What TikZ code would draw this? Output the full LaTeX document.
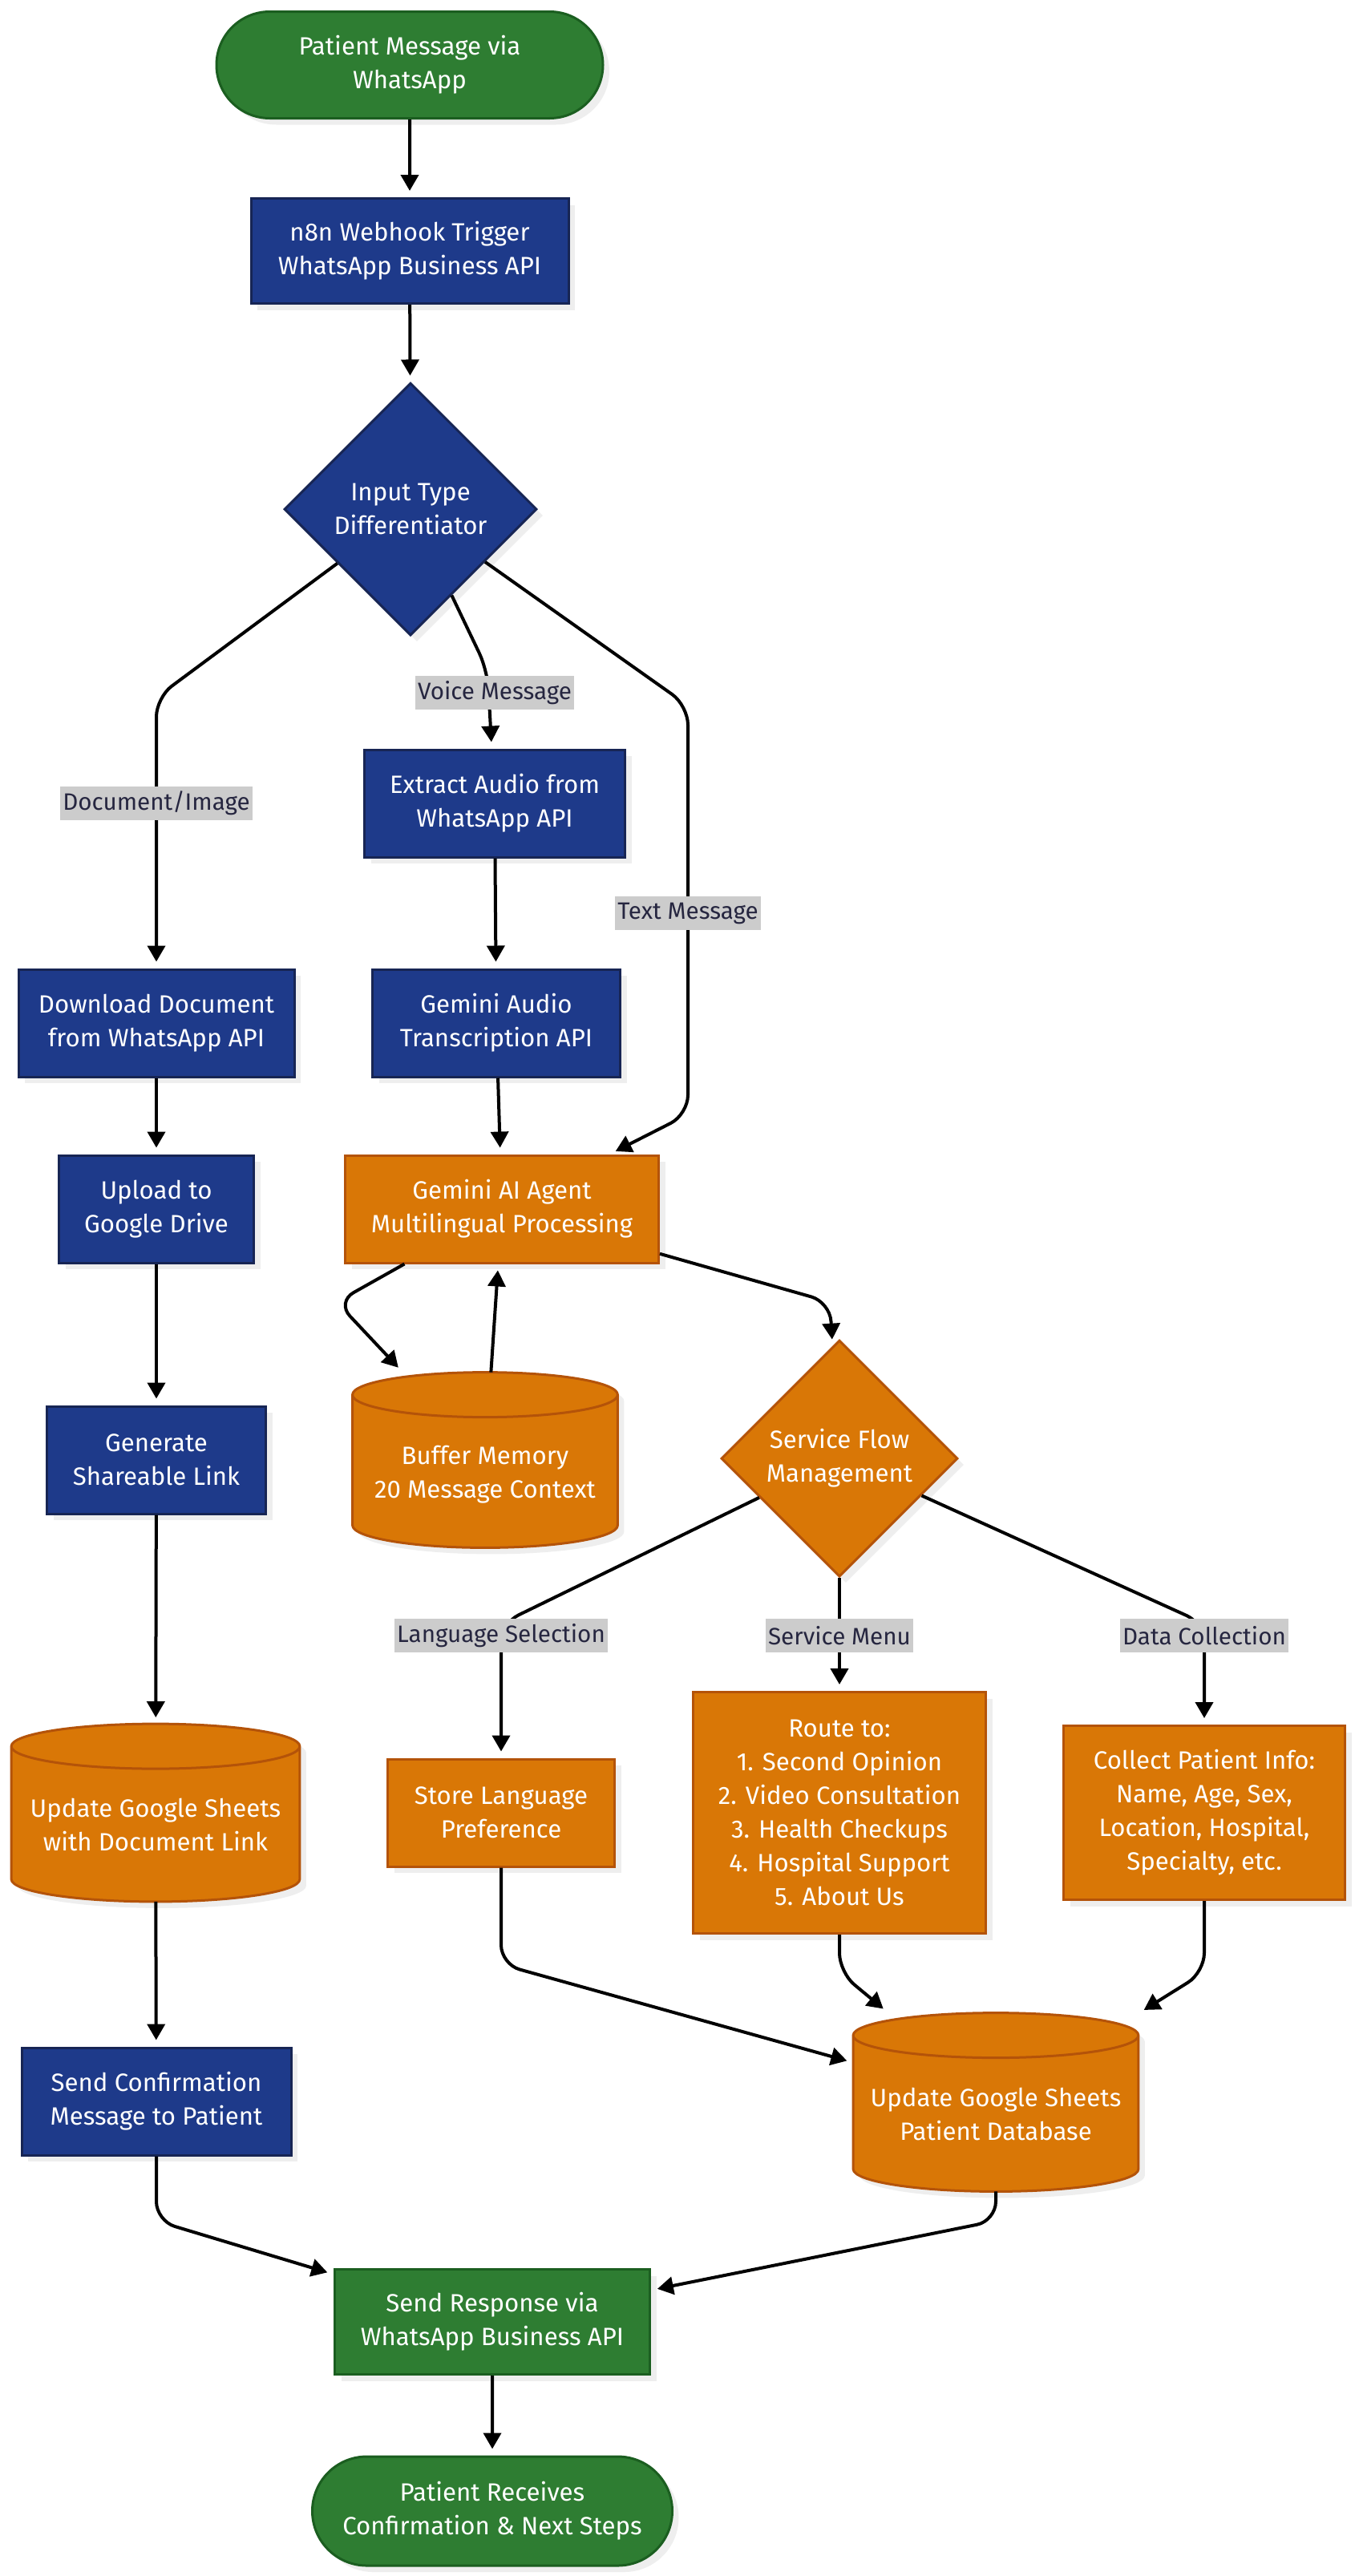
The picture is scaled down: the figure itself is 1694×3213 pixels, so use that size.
\documentclass[tikz,border=0pt]{standalone}
\usepackage{fontspec}
\setmainfont{Fira Sans}
\usetikzlibrary{shapes.geometric,shapes.misc,arrows.meta,shadows,calc,backgrounds}
\definecolor{gfill}{HTML}{2E7D32}
\definecolor{gline}{HTML}{1B5E20}
\definecolor{bfill}{HTML}{1E3A8A}
\definecolor{bline}{HTML}{172554}
\definecolor{ofill}{HTML}{D97706}
\definecolor{oline}{HTML}{B45309}
\definecolor{shad}{HTML}{EEEEEE}
\definecolor{lblbg}{HTML}{CCCCCC}
\definecolor{lbltx}{HTML}{262640}
\tikzset{
  base/.style={text=white, font=\fontsize{15.6}{21}\selectfont, align=center,
    line width=1.5pt, inner sep=0pt,
    drop shadow={shadow xshift=4pt, shadow yshift=-4pt, fill=shad, opacity=1}},
  greenterm/.style={base, rounded rectangle, fill=gfill, draw=gline},
  greenbox/.style={base, rectangle, fill=gfill, draw=gline},
  bluebox/.style={base, rectangle, fill=bfill, draw=bline},
  bluedia/.style={base, diamond, aspect=1, fill=bfill, draw=bline},
  orangebox/.style={base, rectangle, fill=ofill, draw=oline},
  orangedia/.style={base, diamond, aspect=1, fill=ofill, draw=oline},
  cylnode/.style={text=white, font=\fontsize{15.6}{21}\selectfont, align=center,
    inner sep=0pt, rectangle},
  sz/.style 2 args={minimum width=#1pt, minimum height=#2pt},
  cylbody/.style={fill=ofill, draw=oline, line width=1.5pt},
  flow/.style={line width=2pt, -{Triangle[length=10pt,width=11pt]},
    shorten >=4pt, rounded corners=12pt},
  elabel/.style={fill=lblbg, text=lbltx, font=\fontsize{14.8}{17}\selectfont,
    inner xsep=1.5pt, inner ysep=0pt, minimum height=21pt},
}
\newcommand\cyltext[1]{\raisebox{-12.5pt}[0pt][0pt]{\begin{tabular}{@{}c@{}}#1\end{tabular}}}
\newcommand\drawcyl[1]{%
  \fill[shad] let \p1=(#1.north west), \p2=(#1.south east) in
    (\x1+4pt,\y1-18pt) -- (\x1+4pt,\y2+10pt)
    arc[start angle=180,end angle=360,x radius={0.5*(\x2-\x1)},y radius=14pt]
    -- (\x2+4pt,\y1-18pt)
    arc[start angle=0,end angle=180,x radius={0.5*(\x2-\x1)},y radius=14pt] -- cycle;
  \draw[cylbody] let \p1=(#1.north west), \p2=(#1.south east) in
    (\x1,\y1-14pt) -- (\x1,\y2+14pt)
    arc[start angle=180,end angle=360,x radius={0.5*(\x2-\x1)},y radius=14pt]
    -- (\x2,\y1-14pt)
    arc[start angle=0,end angle=180,x radius={0.5*(\x2-\x1)},y radius=14pt] -- cycle
    (\x1,\y1-14pt)
    arc[start angle=180,end angle=360,x radius={0.5*(\x2-\x1)},y radius=14pt];
}
\begin{document}
\begin{tikzpicture}[x=0.5pt,y=-0.5pt]
\useasboundingbox (0,0) rectangle (1694,3213);
% nodes
\node[greenterm, sz={241}{66.5}] (start) at (511,81) {Patient Message via\\WhatsApp};
\node[bluebox, sz={198}{65.5}] (hook) at (511,313) {n8n Webhook Trigger\\WhatsApp Business API};
\node[bluedia, sz={157.5}{157.5}] (itype) at (512,635) {Input Type\\Differentiator};
\node[bluebox, sz={172}{67}] (download) at (195,1276) {Download Document\\from WhatsApp API};
\node[bluebox, sz={121.5}{67}] (upload) at (195,1508) {Upload to\\Google Drive};
\node[bluebox, sz={136.5}{67}] (generate) at (195,1821) {Generate\\Shareable Link};
\node[cylnode, sz={179.5}{110.5}] (docsheet) at (194,2261) {\cyltext{Update Google Sheets\\with Document Link}};
\node[bluebox, sz={168}{67}] (confirm) at (195,2621) {Send Confirmation\\Message to Patient};
\node[bluebox, sz={162.5}{67}] (extract) at (617,1002) {Extract Audio from\\WhatsApp API};
\node[bluebox, sz={154.5}{67}] (transcribe) at (619,1276) {Gemini Audio\\Transcription API};
\node[orangebox, sz={195.5}{67}] (agent) at (626,1508) {Gemini AI Agent\\Multilingual Processing};
\node[cylnode, sz={165}{109}] (buffer) at (605,1821) {\cyltext{Buffer Memory\\20 Message Context}};
\node[orangedia, sz={147.5}{147.5}] (sflow) at (1047,1819) {Service Flow\\Management};
\node[orangebox, sz={141.5}{67}] (storelang) at (625,2261) {Store Language\\Preference};
\node[orangebox, sz={182.5}{150.5}] (route) at (1047,2261) {Route to:\\1. Second Opinion\\2. Video Consultation\\3. Health Checkups\\4. Hospital Support\\5. About Us};
\node[orangebox, sz={175.5}{108.5}] (collect) at (1502,2261) {Collect Patient Info:\\Name, Age, Sex,\\Location, Hospital,\\Specialty, etc.};
\node[cylnode, sz={177.5}{111}] (patientdb) at (1242,2622) {\cyltext{Update Google Sheets\\Patient Database}};
\node[greenbox, sz={196.5}{65.5}] (sendresp) at (614,2896) {Send Response via\\WhatsApp Business API};
\node[greenterm, sz={224.5}{68}] (receive) at (614,3132) {Patient Receives\\Confirmation \& Next Steps};
\begin{pgfonlayer}{background}
\fill[white] (0,0) rectangle (1694,3213);
\drawcyl{docsheet}
\drawcyl{buffer}
\drawcyl{patientdb}
\end{pgfonlayer}
% connectors
\draw[flow] (start) -- (hook);
\draw[flow] (hook) -- (itype);
\draw[flow] (itype) -- (195,870) -- (download);
\draw[flow] (itype) -- (608,836) -- (extract);
\draw[flow] (itype) -- (858,880) -- (858,1390) -- (agent);
\draw[flow] (extract) -- (transcribe);
\draw[flow] (transcribe) -- (agent);
\draw[flow] (download) -- (upload);
\draw[flow] (upload) -- (generate);
\draw[flow] (generate) -- (docsheet);
\draw[flow] (docsheet) -- (confirm);
\draw[flow] (agent) -- (420,1624) -- (buffer);
\draw[flow] (buffer) -- (agent);
\draw[flow] (agent) -- (1035,1624) -- (sflow);
\draw[flow] (sflow) -- (625,2025) -- (storelang);
\draw[flow] (sflow) -- (route);
\draw[flow] (sflow) -- (1502,2025) -- (collect);
\draw[flow] (storelang) -- (625,2450) -- (patientdb);
\draw[flow] (route) -- (1047,2460) -- (patientdb);
\draw[flow] (collect) -- (1502,2460) -- (patientdb);
\draw[flow] (patientdb) -- (1242,2770) -- (sendresp);
\draw[flow] (confirm) -- (195,2770) -- (sendresp);
\draw[flow] (sendresp) -- (receive);
% edge labels
\node[elabel] (ldoc) at (195,1002) {Document/Image};
\node[elabel] (lvoice) at (617,864) {Voice Message};
\node[elabel] (ltext) at (858,1139) {Text Message};
\node[elabel] (llang) at (625,2040) {Language Selection};
\node[elabel] (lmenu) at (1047,2040) {Service Menu};
\node[elabel] (ldata) at (1502,2040) {Data Collection};
\end{tikzpicture}
\end{document}
